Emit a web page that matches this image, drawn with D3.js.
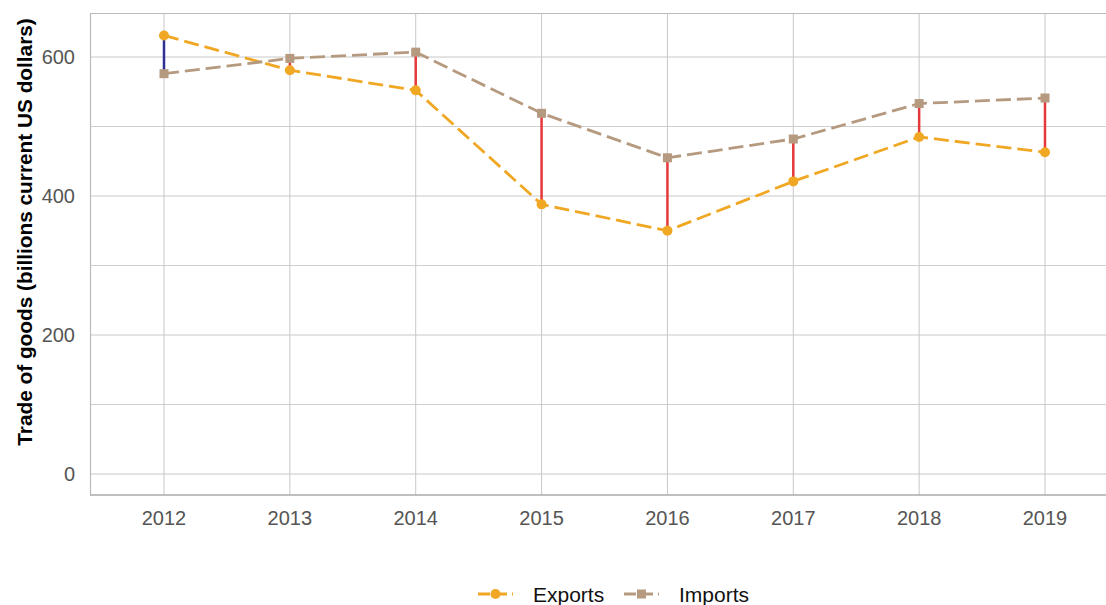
<!DOCTYPE html>
<html><head><meta charset="utf-8">
<script src="https://cdn.jsdelivr.net/npm/d3@7"></script>
<style>body{margin:0;background:#fff;} svg text{font-family:"Liberation Sans",Arial,Helvetica,sans-serif;}</style>
</head><body><svg id="c" width="1106" height="605"></svg>
<script>
const years = [2012, 2013, 2014, 2015, 2016, 2017, 2018, 2019];
const exportsVals = [631, 581, 552, 388, 350, 421, 485, 463];
const importsVals = [576, 598, 607, 519, 455, 482, 533, 541];
const yTicks = [0, 200, 400, 600];
const yMinor = [100, 300, 500];
const seriesNames = ["Exports", "Imports"];
const seriesColors = ["#f0a824", "#b59a80"];

const svg = d3.select("#c");
const pLeft = 90, pTop = 13, pBottom = 495, pRight = 1119;
const x = d3.scalePoint().domain(years).range([164, 1045]);
const y = d3.scaleLinear().domain([0, 600]).range([474, 57]);

const g = svg.append("g");
// gridlines
g.selectAll(".ymin").data(yMinor).enter().append("line")
  .attr("x1", pLeft).attr("x2", pRight).attr("y1", d => y(d)).attr("y2", d => y(d))
  .attr("stroke", "#cfcfcf").attr("stroke-width", 1);
g.selectAll(".ymaj").data(yTicks).enter().append("line")
  .attr("x1", pLeft).attr("x2", pRight).attr("y1", d => y(d)).attr("y2", d => y(d))
  .attr("stroke", "#c8c8c8").attr("stroke-width", 1);
g.selectAll(".xg").data(years).enter().append("line")
  .attr("x1", d => x(d)).attr("x2", d => x(d)).attr("y1", pTop).attr("y2", pBottom)
  .attr("stroke", "#c8c8c8").attr("stroke-width", 1);
// panel border top/left/bottom
g.append("line").attr("x1", pLeft).attr("x2", pRight).attr("y1", pTop + 0.5).attr("y2", pTop + 0.5).attr("stroke", "#bbbbbb").attr("stroke-width", 1.2);
g.append("line").attr("x1", pLeft + 0.5).attr("x2", pLeft + 0.5).attr("y1", pTop).attr("y2", pBottom).attr("stroke", "#bbbbbb").attr("stroke-width", 1.2);
g.append("line").attr("x1", pLeft).attr("x2", pRight).attr("y1", pBottom).attr("y2", pBottom).attr("stroke", "#aaaaaa").attr("stroke-width", 1.6);

// axis labels
svg.selectAll(".yl").data(yTicks).enter().append("text")
  .attr("x", 75).attr("y", d => y(d)).attr("dy", "0.36em").attr("text-anchor", "end")
  .attr("font-size", 20).attr("fill", "#555").text(d => d);
svg.selectAll(".xl").data(years).enter().append("text")
  .attr("x", d => x(d)).attr("y", 525).attr("text-anchor", "middle")
  .attr("font-size", 20).attr("fill", "#555").text(d => d);
svg.append("text").attr("transform", "translate(32,232) rotate(-90)")
  .attr("text-anchor", "middle").attr("font-size", 20.8).attr("font-weight", "bold")
  .attr("fill", "#000").text("Trade of goods (billions current US dollars)");

const data = years.map((yr, i) => ({yr, e: exportsVals[i], m: importsVals[i]}));
// difference segments
g.selectAll(".seg").data(data).enter().append("line")
  .attr("x1", d => x(d.yr)).attr("x2", d => x(d.yr))
  .attr("y1", d => y(d.e)).attr("y2", d => y(d.m))
  .attr("stroke", d => d.e > d.m ? "#2e3192" : "#e5383b").attr("stroke-width", 2.5);

const line = d3.line().x(d => x(d[0])).y(d => y(d[1]));
const eData = years.map((yr, i) => [yr, exportsVals[i]]);
const mData = years.map((yr, i) => [yr, importsVals[i]]);
g.append("path").attr("d", line(eData)).attr("fill", "none").attr("stroke", seriesColors[0])
  .attr("stroke-width", 2.8).attr("stroke-dasharray", "15,6");
g.append("path").attr("d", line(mData)).attr("fill", "none").attr("stroke", seriesColors[1])
  .attr("stroke-width", 2.8).attr("stroke-dasharray", "15,6");
g.selectAll(".ep").data(eData).enter().append("circle")
  .attr("cx", d => x(d[0])).attr("cy", d => y(d[1])).attr("r", 5).attr("fill", seriesColors[0]);
g.selectAll(".mp").data(mData).enter().append("rect")
  .attr("x", d => x(d[0]) - 4.5).attr("y", d => y(d[1]) - 4.5).attr("width", 9).attr("height", 9)
  .attr("fill", seriesColors[1]);

// legend
const lg = svg.append("g");
const lx = [478, 624];
seriesNames.forEach((n, i) => {
  lg.append("line").attr("x1", lx[i]).attr("x2", lx[i] + 35).attr("y1", 594).attr("y2", 594)
    .attr("stroke", seriesColors[i]).attr("stroke-width", 2.8).attr("stroke-dasharray", "12,5");
  if (i === 0) lg.append("circle").attr("cx", lx[i] + 17.5).attr("cy", 594).attr("r", 5).attr("fill", seriesColors[i]);
  else lg.append("rect").attr("x", lx[i] + 13).attr("y", 589.5).attr("width", 9).attr("height", 9).attr("fill", seriesColors[i]);
  lg.append("text").attr("x", lx[i] + 55).attr("y", 594).attr("dy", "0.36em")
    .attr("font-size", 21).attr("fill", "#111").text(n);
});
</script></body></html>
